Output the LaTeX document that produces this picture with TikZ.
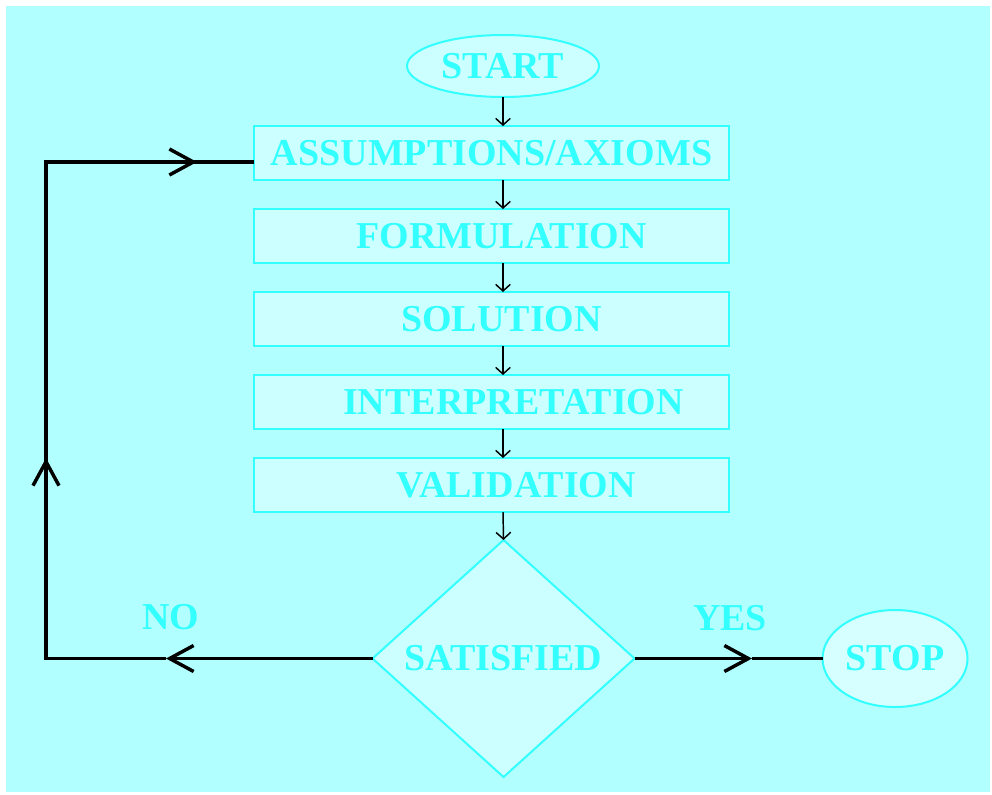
\documentclass[tikz,border=0pt]{standalone}
\usepackage{fontspec}
\setmainfont{Liberation Serif}
\usepackage{tikz}
\usetikzlibrary{shapes.geometric, arrows.meta, positioning}
\definecolor{bgcyan}{HTML}{B2FFFF}
\definecolor{boxfill}{HTML}{CCFFFF}
\definecolor{boxline}{HTML}{33FFFF}
\definecolor{stopfill}{HTML}{D6FFFF}

\begin{document}
\begin{tikzpicture}[
  x=0.75pt, y=-0.75pt,
  stepbox/.style={draw=boxline, line width=1.5pt, rectangle, fill=boxfill,
    minimum width=356pt, minimum height=40.5pt, inner sep=0pt, outer sep=0pt,
    text=boxline, font=\fontsize{28.5}{34}\selectfont\bfseries},
  term/.style={stepbox, ellipse, minimum width=144pt, minimum height=46.5pt},
  decision/.style={stepbox, diamond, minimum width=196.5pt, minimum height=177.75pt},
  lbl/.style={text=boxline, inner sep=0pt, font=\fontsize{28.5}{34}\selectfont\bfseries},
  arrow/.style={line width=1.1pt, -{Straight Barb[length=5pt,width=11pt]}},
  loopline/.style={line width=2.6pt},
  looparrow/.style={loopline, -{Straight Barb[length=18pt,width=19.5pt]}}
]
\useasboundingbox (0,0) rectangle (992,794);
\fill[bgcyan] (6,6) rectangle (990,792);

\node[term] (start) at (503,66) {START};
\node[stepbox, below=21.75pt of start, xshift=-8.6pt] (ass) {ASSUMPTIONS/AXIOMS};
\node[stepbox, below=21.75pt of ass] (form) {\hspace*{15pt}FORMULATION};
\node[stepbox, below=21.75pt of form] (sol) {\hspace*{15pt}SOLUTION};
\node[stepbox, below=21.75pt of sol] (interp) {\hspace*{33pt}INTERPRETATION};
\node[stepbox, below=21.75pt of interp] (val) {\hspace*{37pt}VALIDATION};
\node[decision, below=21pt of val, xshift=9pt] (sat) {SATISFIED};
\node[term, fill=stopfill, right=141pt of sat, minimum width=108.75pt, minimum height=72.75pt] (stop) {STOP};
\node[lbl] (no) at (171,617) {NO};
\node[lbl] (yes) at (730,618) {YES};

\draw[arrow] (start.south) -- (start.south |- ass.north);
\draw[arrow] (start.south |- ass.south) -- (start.south |- form.north);
\draw[arrow] (start.south |- form.south) -- (start.south |- sol.north);
\draw[arrow] (start.south |- sol.south) -- (start.south |- interp.north);
\draw[arrow] (start.south |- interp.south) -- (start.south |- val.north);
\draw[arrow] (start.south |- val.south) -- (sat.north);

\coordinate (yestip) at (752,0);
\draw[looparrow] (sat.east) -- (sat.east -| yestip);
\draw[loopline] (sat.east -| yestip) -- (stop.west);

\coordinate (loopx) at (46,0);
\coordinate (feed) at ([yshift=-6.75pt]ass.west);
\coordinate (notip) at (166,0);
\coordinate (uptip) at (0,458);
\coordinate (feedtip) at (197,0);
\draw[looparrow] (sat.west) -- (sat.west -| notip);
\draw[loopline] (sat.west -| notip) -- (sat.west -| loopx) -- (loopx |- uptip);
\draw[looparrow] (sat.west -| loopx) -- (loopx |- uptip);
\draw[loopline] (loopx |- uptip) -- (loopx |- feed) -- (feed -| feedtip);
\draw[looparrow] (loopx |- feed) -- (feed -| feedtip);
\draw[loopline] (feed -| feedtip) -- (feed);
\end{tikzpicture}
\end{document}
